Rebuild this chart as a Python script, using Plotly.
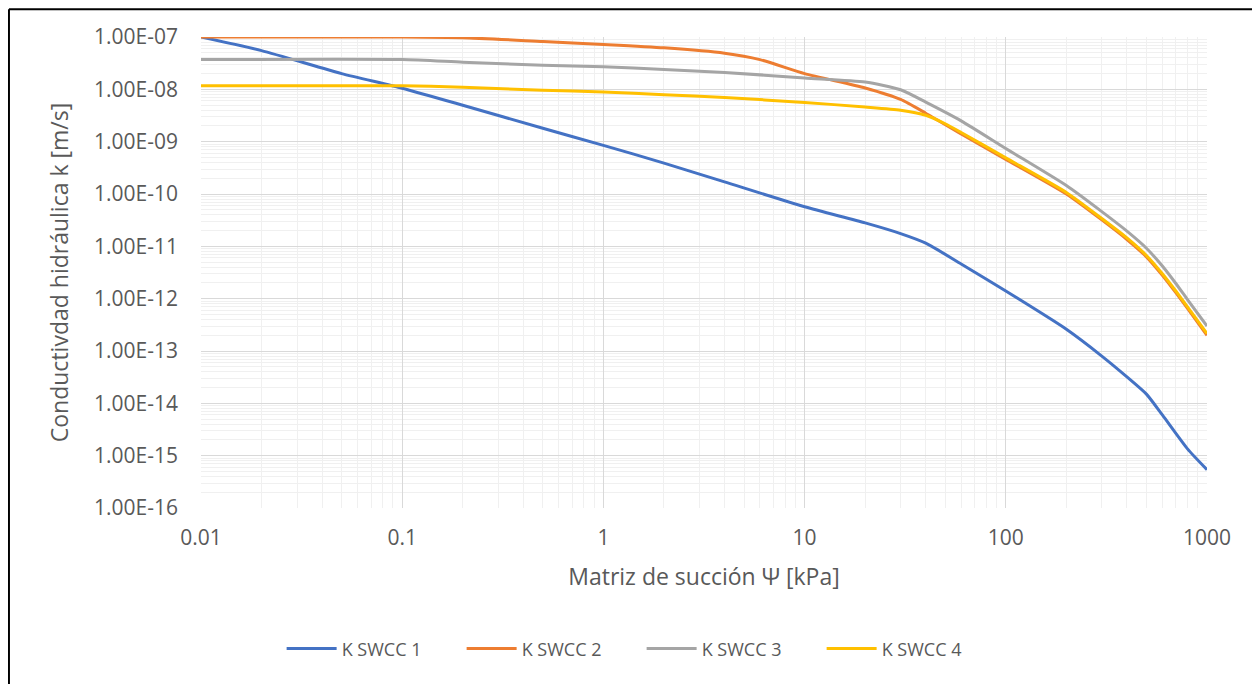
import plotly.graph_objects as go

# Hydraulic conductivity curves
succion_1 = [0.01, 0.02, 0.05, 0.1, 0.2, 0.5, 1, 2, 4, 10, 20, 30, 40, 60, 100, 200, 300, 400, 500, 600, 800, 1000]
k_swcc_1 = [1e-7, 5.5e-8, 2.0e-8, 1.05e-8, 4.96e-9, 1.8e-9, 8.5e-10, 3.9e-10, 1.7e-10, 5.7e-11, 2.8e-11, 1.75e-11,
            1.15e-11, 4.6e-12, 1.4e-12, 2.6e-13, 8.0e-14, 3.2e-14, 1.5e-14, 6.0e-15, 1.35e-15, 5.4e-16]

succion_2 = [0.01, 0.1, 0.2, 0.5, 1, 2, 4, 6, 10, 20, 30, 40, 60, 100, 200, 300, 400, 500, 600, 700, 800, 1000]
k_swcc_2 = [1e-7, 1e-7, 9.7e-8, 8.2e-8, 7.2e-8, 6.2e-8, 4.9e-8, 3.7e-8, 2.0e-8, 1.06e-8, 6.4e-9, 3.5e-9,
            1.4e-9, 4.6e-10, 1.0e-10, 3.2e-11, 1.35e-11, 6.3e-12, 2.8e-12, 1.3e-12, 6.5e-13, 2.0e-13]

succion_3 = [0.01, 0.1, 0.2, 0.5, 1, 2, 4, 10, 20, 30, 40, 60, 100, 200, 300, 400, 500, 600, 700, 800, 1000]
k_swcc_3 = [3.7e-8, 3.7e-8, 3.3e-8, 2.9e-8, 2.7e-8, 2.4e-8, 2.1e-8, 1.65e-8, 1.38e-8, 9.8e-9, 5.7e-9, 2.5e-9,
            7.4e-10, 1.45e-10, 4.6e-11, 1.95e-11, 9.2e-12, 4.2e-12, 1.95e-12, 9.6e-13, 3.0e-13]

succion_4 = [0.01, 0.1, 0.2, 0.5, 1, 2, 4, 10, 20, 30, 40, 50, 60, 100, 200, 300, 400, 500, 600, 700, 800, 1000]
k_swcc_4 = [1.17e-8, 1.17e-8, 1.1e-8, 9.6e-9, 8.9e-9, 7.9e-9, 7.0e-9, 5.6e-9, 4.6e-9, 4.0e-9, 3.2e-9, 2.2e-9,
            1.5e-9, 4.9e-10, 1.07e-10, 3.4e-11, 1.45e-11, 6.7e-12, 3.0e-12, 1.4e-12, 7.0e-13, 2.15e-13]

series_names = ["K SWCC 1", "K SWCC 2", "K SWCC 3", "K SWCC 4"]
series_colors = ["#4472C4", "#ED7D31", "#A5A5A5", "#FFC000"]

x_tickvals = [0.01, 0.1, 1, 10, 100, 1000]
x_ticktext = ["0.01", "0.1", "1", "10", "100", "1000"]
y_exponents = list(range(-16, -6))
y_tickvals = [10.0 ** e for e in y_exponents]
y_ticktext = ["1.00E-%02d" % -e for e in y_exponents]

x_minor = [m * 10.0 ** e for e in range(-2, 3) for m in range(2, 10)]
y_minor = [m * 10.0 ** e for e in range(-16, -7) for m in range(2, 10)]

FONT = "Open Sans"
TXT = "#595959"

fig = go.Figure()
all_x = [succion_1, succion_2, succion_3, succion_4]
all_y = [k_swcc_1, k_swcc_2, k_swcc_3, k_swcc_4]
for xs, ys, name, color in zip(all_x, all_y, series_names, series_colors):
    fig.add_trace(go.Scatter(x=xs, y=ys, name=name, mode="lines",
                             line=dict(color=color, width=3, shape="spline", smoothing=0.6)))

# the page body adds an 8px offset, margins are set to compensate
fig.update_layout(
    width=1260, height=684,
    margin=dict(l=193, r=61, t=29, b=184),
    paper_bgcolor="white", plot_bgcolor="white",
    font=dict(family=FONT, size=18, color=TXT),
    legend=dict(orientation="h", x=0.438, y=-0.299, xanchor="center", yanchor="middle",
                font=dict(size=18, color=TXT), entrywidth=115, itemwidth=50),
    showlegend=True,
)

fig.update_xaxes(
    type="log", range=[-2, 3],
    tickmode="array", tickvals=x_tickvals, ticktext=x_ticktext,
    showgrid=True, gridcolor="#D9D9D9", gridwidth=1.3,
    minor=dict(tickmode="array", tickvals=x_minor, showgrid=True, gridcolor="#F0F0F0", gridwidth=1.3),
    showline=False, zeroline=False, ticks="", ticklabelstandoff=15,
    tickfont=dict(size=21, color=TXT),
    title=dict(text="Matriz de succión Ψ [kPa]", font=dict(size=23, color=TXT), standoff=18),
)
fig.update_yaxes(
    type="log", range=[-16, -7],
    tickmode="array", tickvals=y_tickvals, ticktext=y_ticktext,
    showgrid=True, gridcolor="#D9D9D9", gridwidth=1.3,
    minor=dict(tickmode="array", tickvals=y_minor, showgrid=True, gridcolor="#F0F0F0", gridwidth=1.3),
    showline=False, zeroline=False, ticks="", ticklabelstandoff=22,
    tickfont=dict(size=21, color=TXT),
    title=dict(text="Conductivdad hidráulica k [m/s]", font=dict(size=23, color=TXT), standoff=18),
)

# outer frame of the chart area
fig.add_shape(type="line", xref="paper", yref="paper", x0=-0.1909, x1=-0.1909, y0=1.0588, y1=-0.4,
              line=dict(color="black", width=2))
fig.add_shape(type="line", xref="paper", yref="paper", x0=-0.1909, x1=1.0517, y0=1.0588, y1=1.0588,
              line=dict(color="black", width=2))
fig.add_shape(type="line", xref="paper", yref="paper", x0=1.0517, x1=1.0517, y0=1.0588, y1=-0.4,
              line=dict(color="#BFBFBF", width=1.5))

fig.write_html("out.html")
